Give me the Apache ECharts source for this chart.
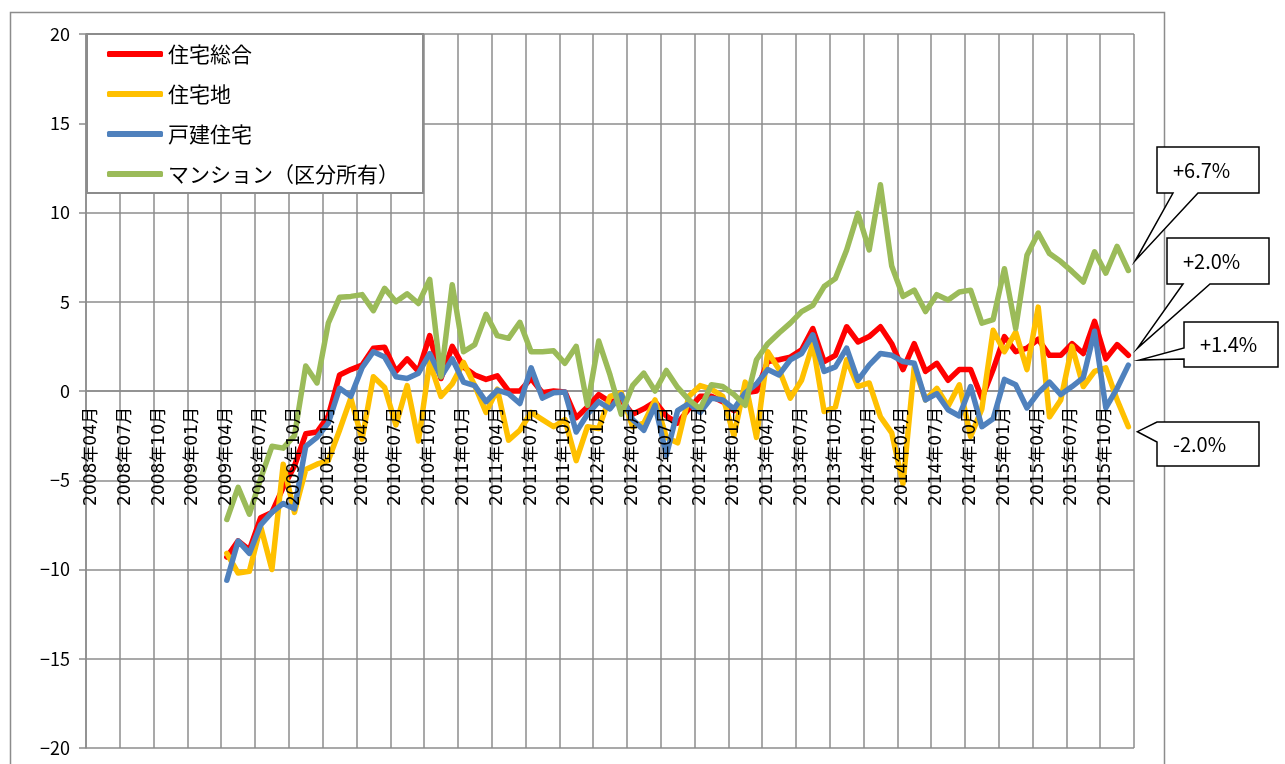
<!DOCTYPE html>
<html>
<head>
<meta charset="utf-8">
<script src="https://cdn.jsdelivr.net/npm/echarts@6/dist/echarts.min.js"></script>
<style>
  body { margin: 0; background: #fff; }
  #chart { width: 1285px; height: 764px; }
</style>
</head>
<body>
<div id="chart"></div>
<script>
// 月次カテゴリ 2008年04月〜2015年12月
const months = [];
for (let y = 2008; y <= 2015; y++) {
  for (let m = (y === 2008 ? 4 : 1); m <= 12; m++) {
    months.push(y + '年' + String(m).padStart(2, '0') + '月');
  }
}

const seriesNames = ['住宅総合', '住宅地', '戸建住宅', 'マンション（区分所有）'];
const seriesColors = ['#ff0000', '#ffc000', '#4f81bd', '#9bbb59'];
const yTicks = [-20, -15, -10, -5, 0, 5, 10, 15, 20];

// 2009年04月〜2015年12月 (81か月)
const sogo = [
  -9.3, -8.4, -8.9, -7.1, -6.8, -5.4, -4.2, -2.4, -2.3, -1.4,
  0.9, 1.2, 1.45, 2.4, 2.45, 1.1, 1.8, 1.1, 3.1, 0.7,
  2.5, 1.35, 0.9, 0.65, 0.85, 0.0, 0.0, 0.7, -0.1, 0.0,
  -0.05, -1.5, -0.9, -0.2, -0.6, -0.5, -1.3, -1.0, -0.6, -1.4,
  -1.8, -1.0, -0.3, -0.3, -0.6, -1.1, -0.1, 0.0, 1.65, 1.75,
  1.9, 2.3, 3.5, 1.65, 2.0, 3.6, 2.75, 3.05, 3.6, 2.65,
  1.2, 2.65, 1.1, 1.55, 0.6, 1.2, 1.2, -0.4, 1.2, 3.05,
  2.2, 2.4, 2.9, 2.0, 2.0, 2.65, 2.1, 3.9, 1.8, 2.6,
  2.0
];
const takuchi = [
  -9.1, -10.2, -10.1, -7.6, -10.0, -4.1, -6.8, -4.4, -4.1, -3.9,
  -2.2, -0.4, -2.7, 0.8, 0.2, -1.9, 0.3, -2.8, 1.6, -0.3,
  0.4, 1.6, 0.3, -1.2, 0.1, -2.75, -2.2, -1.2, -1.6, -2.0,
  -1.6, -3.9, -2.0, -2.1, -0.3, -0.1, -2.0, -1.8, -0.5, -2.6,
  -2.9, -0.3, 0.3, 0.1, -0.3, -2.5, 0.5, -2.6, 2.2, 1.2,
  -0.4, 0.6, 2.65, -1.15, -0.9, 1.75, 0.25, 0.45, -1.45, -2.35,
  -5.2, 1.35, -0.5, 0.15, -0.85, 0.35, -2.55, -1.0, 3.4, 2.2,
  3.3, 1.2, 4.7, -1.45, -0.5, 2.5, 0.25, 1.1, 1.3, -0.5,
  -2.0
];
const kodate = [
  -10.6, -8.4, -9.1, -7.5, -6.8, -6.3, -6.6, -3.1, -2.6, -1.8,
  0.15, -0.3, 1.3, 2.2, 1.9, 0.8, 0.7, 1.0, 2.1, 0.8,
  1.8, 0.5, 0.3, -0.6, 0.05, -0.15, -0.7, 1.3, -0.4, -0.1,
  -0.05, -2.3, -1.3, -0.6, -1.0, -0.2, -1.6, -2.2, -0.8, -3.6,
  -1.1, -0.7, -1.2, -0.4, -0.5, -1.0, -0.1, 0.4, 1.2, 0.9,
  1.75, 2.1, 3.15, 1.1, 1.35, 2.4, 0.6, 1.45, 2.1, 2.0,
  1.65, 1.55, -0.5, -0.15, -1.05, -1.4, 0.25, -2.0, -1.55, 0.65,
  0.35, -0.95, -0.1, 0.5, -0.2, 0.25, 0.75, 3.35, -0.95, 0.15,
  1.45
];
const mansion = [
  -7.2, -5.4, -6.9, -4.9, -3.1, -3.2, -2.5, 1.4, 0.45, 3.8,
  5.25, 5.3, 5.4, 4.5, 5.75, 5.0, 5.45, 4.9, 6.25, 0.8,
  5.95, 2.2, 2.6, 4.3, 3.1, 2.95, 3.85, 2.2, 2.2, 2.25,
  1.55, 2.5, -0.8, 2.8, 0.9, -1.3, 0.3, 1.0, 0.0, 1.15,
  0.2, -0.5, -1.0, 0.35, 0.25, -0.2, -0.8, 1.75, 2.65, 3.25,
  3.8, 4.45, 4.8, 5.85, 6.3, 7.9, 9.95, 7.9, 11.55, 7.0,
  5.3, 5.65, 4.45, 5.4, 5.1, 5.55, 5.65, 3.8, 4.0, 6.85,
  3.5, 7.6, 8.85, 7.7, 7.25, 6.7, 6.1, 7.8, 6.6, 8.1,
  6.75
];
const callTexts = ['+2.0%', '-2.0%', '+1.4%', '+6.7%'];

const lead = months.length - sogo.length;
const pad = arr => new Array(lead).fill(null).concat(arr);
const allData = [sogo, takuchi, kodate, mansion];

const FONT = '"Noto Sans CJK JP", "Noto Sans", sans-serif';
const XFONT = '"DejaVu Sans", "Noto Sans CJK JP", sans-serif';
const GRAY = '#8c8c8c';

const gridTop = 34, gridHeight = 714;
const yMin = yTicks[0], yMax = yTicks[yTicks.length - 1];
// x軸（ラベル含む）を 0 の位置へ移動
const zeroOffset = -gridHeight * (0 - yMin) / (yMax - yMin);

const chart = echarts.init(document.getElementById('chart'), null, { renderer: 'canvas' });

const option = {
  animation: false,
  backgroundColor: '#fff',
  textStyle: { fontFamily: FONT },
  grid: { left: 86, top: gridTop, width: 1048, height: gridHeight, outerBoundsMode: 'none' },
  legend: {
    data: seriesNames,
    orient: 'vertical',
    left: 87,
    top: 34,
    padding: [8, 24, 7, 20],
    itemGap: 16,
    itemWidth: 56,
    itemHeight: 6,
    icon: 'roundRect',
    backgroundColor: '#fff',
    borderColor: GRAY,
    borderWidth: 2,
    borderRadius: 0,
    textStyle: { fontSize: 21, lineHeight: 24, color: '#000', fontFamily: FONT }
  },
  xAxis: [
    {
      // 目盛線用
      type: 'category',
      data: months,
      boundaryGap: true,
      position: 'bottom',
      offset: zeroOffset,
      z: 0,
      axisLine: { onZero: false, lineStyle: { color: GRAY, width: 1.5 } },
      axisTick: { show: false, interval: 2 },
      axisLabel: { show: false, interval: 2 },
      splitLine: { show: true, interval: 2, lineStyle: { color: GRAY, width: 1.5 } }
    },
    {
      // ラベル用（系列の上に描画）
      type: 'category',
      data: months,
      boundaryGap: true,
      position: 'bottom',
      offset: zeroOffset,
      z: 20,
      axisLine: { show: false, onZero: false },
      axisTick: { show: false },
      axisLabel: { show: true, interval: 2, rotate: 90, fontSize: 17, margin: 16, color: '#000', fontFamily: XFONT },
      splitLine: { show: false }
    }
  ],
  yAxis: {
    type: 'value',
    min: yMin,
    max: yMax,
    interval: 5,
    axisLine: { show: true, lineStyle: { color: GRAY, width: 1.5 } },
    axisTick: { show: true, length: 7, lineStyle: { color: GRAY, width: 1.5 } },
    axisLabel: {
      fontSize: 18, margin: 16, color: '#000', fontFamily: FONT,
      formatter: v => (v < 0 ? '\u2212' + Math.abs(v) : String(v))
    },
    splitLine: { show: true, lineStyle: { color: GRAY, width: 1.5 } }
  },
  series: seriesNames.map((name, i) => ({
    name: name,
    type: 'line',
    xAxisIndex: 0,
    data: pad(allData[i]),
    symbol: 'none',
    connectNulls: false,
    color: seriesColors[i],
    lineStyle: { width: 5.5, color: seriesColors[i], join: 'round', cap: 'round' },
    z: 2 + i
  }))
};

chart.setOption(option);

// 吹き出し（最新値ラベル）
const last = months.length - 1;
const boxes = [
  // [left, top, right, bottom], 吹き出しの付け根, 先端オフセット
  { s: 0, box: [1167, 238, 1269, 284], side: 'bottom', base: [1183, 1210], off: [9, -7] },
  { s: 1, box: [1157, 422, 1259, 466], side: 'left', base: [422, 442], off: [9, 5] },
  { s: 2, box: [1184, 322, 1278, 367], side: 'left', base: [348, 359], off: [11, -5] },
  { s: 3, box: [1157, 147, 1259, 193], side: 'bottom', base: [1173, 1198], off: [7, -10] }
];
const graphics = [
  {
    type: 'rect', left: 8, top: 10, silent: true, z: 0,
    shape: { x: 0, y: 0, width: 1154, height: 770 },
    style: { fill: null, stroke: GRAY, lineWidth: 1.5 }
  }
];
boxes.forEach(b => {
  const arr = allData[b.s];
  const p = chart.convertToPixel({ seriesIndex: b.s }, [last, arr[arr.length - 1]]);
  const tip = [p[0] + b.off[0], p[1] + b.off[1]];
  const [l, t, r, bt] = b.box;
  let pts;
  if (b.side === 'bottom') {
    pts = [[l, t], [r, t], [r, bt], [b.base[1], bt], tip, [b.base[0], bt], [l, bt]];
  } else {
    pts = [[l, t], [r, t], [r, bt], [l, bt], [l, b.base[1]], tip, [l, b.base[0]]];
  }
  graphics.push({
    type: 'polygon', z: 50, silent: true,
    shape: { points: pts },
    style: { fill: '#fff', stroke: '#000', lineWidth: 1.5 }
  });
  graphics.push({
    type: 'text', z: 51, silent: true,
    x: l + 16, y: (t + bt) / 2,
    style: {
      text: callTexts[b.s], fontSize: 20, fontFamily: FONT, fill: '#000',
      verticalAlign: 'middle', align: 'left'
    }
  });
});
chart.setOption({ graphic: graphics });
</script>
</body>
</html>
